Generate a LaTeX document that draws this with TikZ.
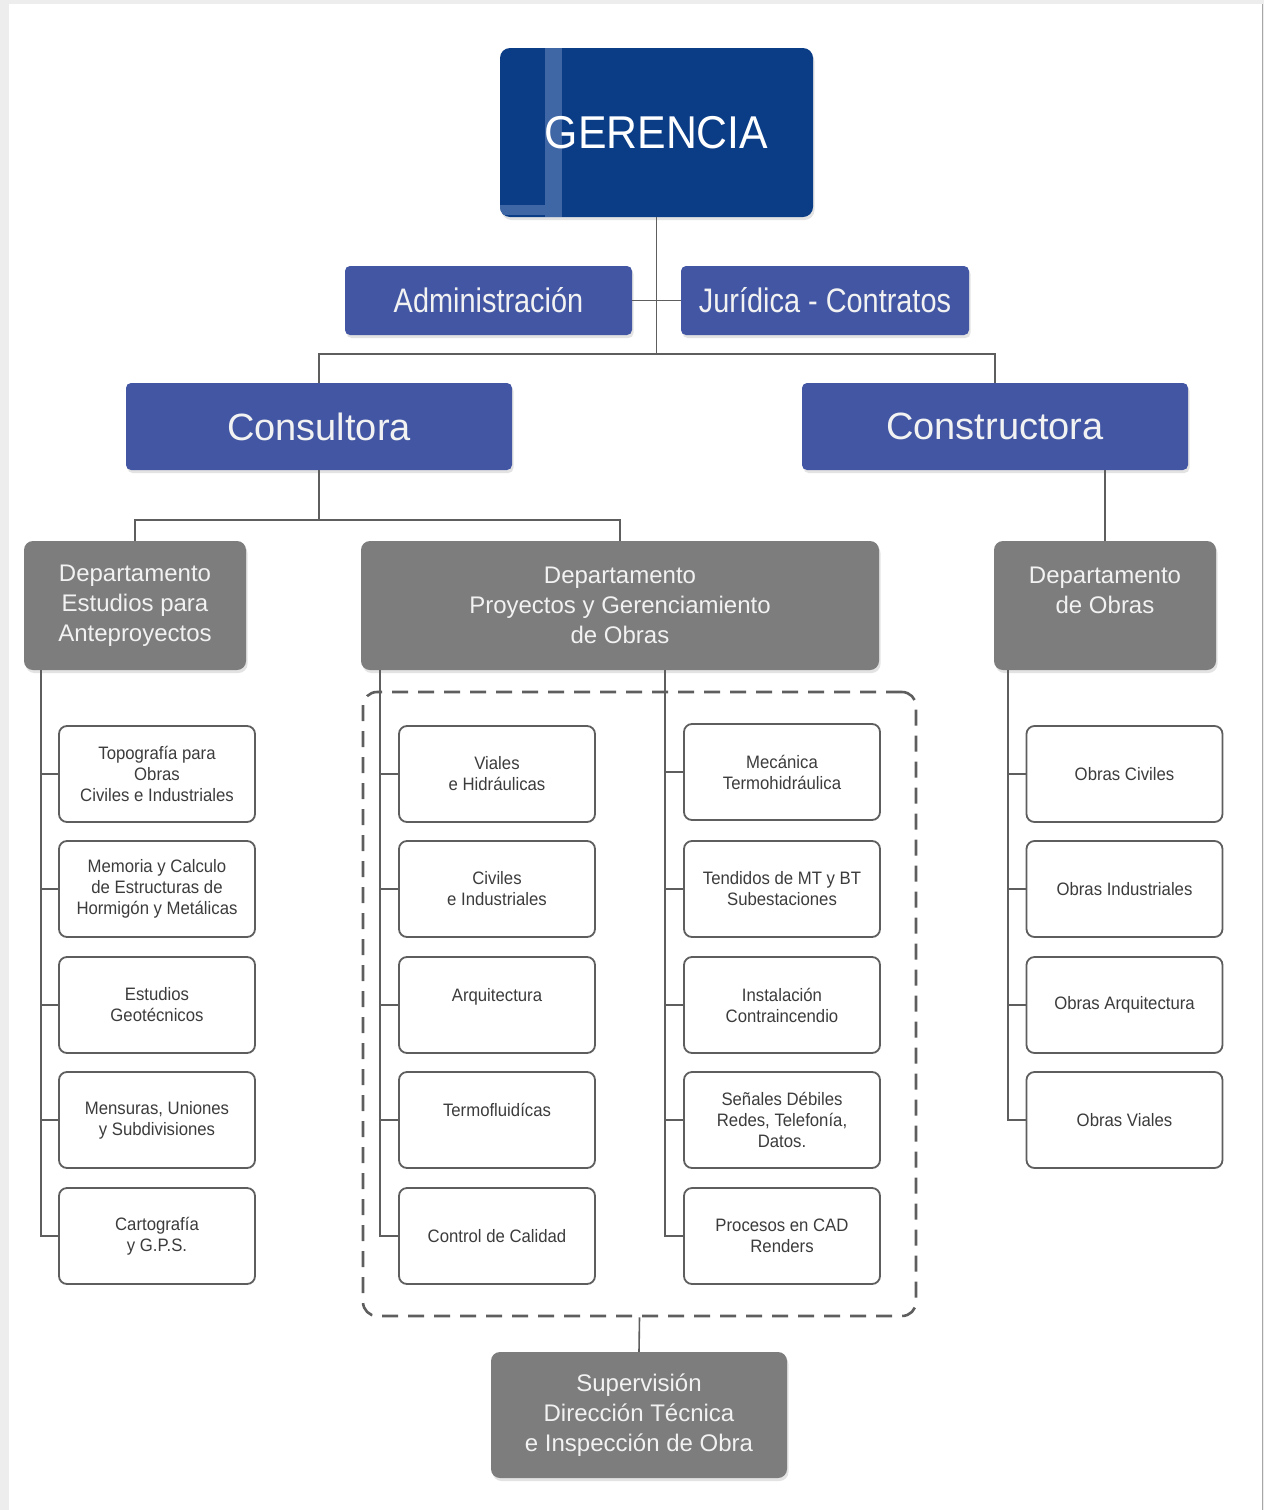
\documentclass[tikz,border=0pt]{standalone}
\usepackage{fontspec}
\setmainfont{Liberation Sans}
\newfontfamily\narrowf[FakeStretch=0.85]{Liberation Sans}
\newfontfamily\smallf[FakeStretch=0.93]{Liberation Sans}
\newfontfamily\gerf[FakeStretch=0.93]{Liberation Sans}
\usetikzlibrary{shadows}
\definecolor{gerblue}{HTML}{0B3D87}
\definecolor{stripeblue}{HTML}{3F67A5}
\definecolor{midblue}{HTML}{4256A3}
\definecolor{deptgray}{HTML}{7D7D7D}
\definecolor{linegray}{HTML}{5E5E5E}
\definecolor{txtgray}{HTML}{3C3C3C}
\definecolor{bgray}{HTML}{EDEDED}
\tikzset{
  softshadow/.style={drop shadow={opacity=0.22, shadow xshift=1.5pt, shadow yshift=-3pt}},
  gerbox/.style={fill=gerblue, rounded corners=10pt, text=white, inner sep=0pt,
    minimum width=313pt, minimum height=169pt, softshadow,
    font=\gerf\fontsize{46}{50}\selectfont},
  bluebox/.style={fill=midblue, rounded corners=5pt, text=white!95!black, inner sep=0pt, align=center, softshadow},
  deptbox/.style={fill=deptgray, rounded corners=9pt, text=white!95!black, inner sep=0pt, align=center,
    minimum height=129pt, softshadow, font=\fontsize{24}{30}\selectfont},
  smallbox/.style={draw=linegray, line width=1.8pt, fill=white, rounded corners=8pt, text=txtgray,
    inner sep=0pt, align=center, minimum width=196pt, minimum height=96pt,
    font=\smallf\fontsize{18}{21}\selectfont},
  conn/.style={draw=linegray, line width=1.6pt},
  grpbox/.style={draw=linegray, line width=2.6pt, dash pattern=on 16pt off 10pt, rounded corners=14pt,
    minimum width=553pt, minimum height=624pt, inner sep=0pt},
}
\begin{document}
\begin{tikzpicture}[x=1pt, y=-1pt]
\useasboundingbox (0,0) rectangle (1264,1510);
% background frame
\fill[bgray] (0,0) rectangle (1264,1510);
\fill[white] (9,4) rectangle (1262,1510);
\draw[gray!70, line width=1.5pt] (1262.5,4) -- (1262.5,1510);

% top level
\node[gerbox, path picture={
  \fill[stripeblue, sharp corners] ([xshift=45pt]path picture bounding box.north west) rectangle ([xshift=62pt]path picture bounding box.south west);
  \fill[stripeblue, sharp corners] ([yshift=12pt]path picture bounding box.south west) rectangle ([xshift=45pt,yshift=2pt]path picture bounding box.south west);
}] (ger) at (656.5,132.5) {GERENCIA};

\node[bluebox, minimum width=287pt, minimum height=69pt, font=\narrowf\fontsize{34}{40}\selectfont] (adm) at (488.5,300.5) {Administración};
\node[bluebox, minimum width=288pt, minimum height=69pt, font=\narrowf\fontsize{34}{40}\selectfont] (jur) at (825,300.5) {Jurídica - Contratos};

\node[bluebox, minimum width=386pt, minimum height=87pt, font=\fontsize{38}{44}\selectfont] (cons) at (319,426.5) {Consultora};
\node[bluebox, minimum width=386pt, minimum height=87pt, font=\fontsize{38}{44}\selectfont] (constr) at (995,426.5) {Constructora};

% departments
\node[deptbox, minimum width=222pt] (dE) at (135,605.5) {Departamento\\Estudios para\\Anteproyectos};
\node[deptbox, minimum width=518pt] (dP) at (620,605.5) {Departamento\\Proyectos y Gerenciamiento\\de Obras};
\node[deptbox, minimum width=222pt] (dO) at (1105,605.5) {Departamento\\de Obras\\ \mbox{}};

% dashed group
\node[grpbox] (grp) at (639.5,1004) {};

% left column
\node[smallbox] (e1) at (157,774) {Topografía para\\Obras\\Civiles e Industriales};
\node[smallbox] (e2) at (157,889) {Memoria y Calculo\\de Estructuras de\\Hormigón y Metálicas};
\node[smallbox] (e3) at (157,1005) {Estudios\\Geotécnicos};
\node[smallbox] (e4) at (157,1120) {Mensuras, Uniones\\y Subdivisiones};
\node[smallbox] (e5) at (157,1236) {Cartografía\\y G.P.S.};

% middle-left column
\node[smallbox] (p1) at (497,774) {Viales\\e Hidráulicas};
\node[smallbox] (p2) at (497,889) {Civiles\\e Industriales};
\node[smallbox] (p3) at (497,1005) {Arquitectura\\ \mbox{}};
\node[smallbox] (p4) at (497,1120) {Termofluidícas\\ \mbox{}};
\node[smallbox] (p5) at (497,1236) {Control de Calidad};

% middle-right column
\node[smallbox] (q1) at (782,772) {Mecánica\\Termohidráulica};
\node[smallbox] (q2) at (782,889) {Tendidos de MT y BT\\Subestaciones};
\node[smallbox] (q3) at (782,1005) {Instalación\\Contraincendio};
\node[smallbox] (q4) at (782,1120) {Señales Débiles\\Redes, Telefonía,\\Datos.};
\node[smallbox] (q5) at (782,1236) {Procesos en CAD\\Renders};

% right column
\node[smallbox] (o1) at (1124.5,774) {Obras Civiles};
\node[smallbox] (o2) at (1124.5,889) {Obras Industriales};
\node[smallbox] (o3) at (1124.5,1005) {Obras Arquitectura};
\node[smallbox] (o4) at (1124.5,1120) {Obras Viales};

% supervision
\node[deptbox, minimum width=296pt, minimum height=126pt] (sup) at (639,1415) {Supervisión\\Dirección Técnica\\e Inspección de Obra};

% connectors
\coordinate (b1) at (656.5,354);
\coordinate (b2) at (319,520);
\draw[conn] (ger.south) -- (b1);
\draw[conn] (adm.east) -- (jur.west);
\draw[conn] (cons.north) |- (b1) -| (constr.north);
\draw[conn] (cons.south) -- (b2);
\draw[conn] (dE.north) |- (b2) -| (dP.north);
\draw[conn] (dO.north) -- (dO.north |- constr.south);

\foreach \n in {e1,e2,e3,e4,e5}
  \draw[conn] ([xshift=17pt]dE.south west) |- (\n.west);
\foreach \n in {p1,p2,p3,p4,p5}
  \draw[conn] ([xshift=19pt]dP.south west) |- (\n.west);
\foreach \n in {q1,q2,q3,q4,q5}
  \draw[conn] ([xshift=304pt]dP.south west) |- (\n.west);
\foreach \n in {o1,o2,o3,o4}
  \draw[conn] ([xshift=14pt]dO.south west) |- (\n.west);

\draw[conn] (grp.south) -- (sup.north);
\end{tikzpicture}
\end{document}
